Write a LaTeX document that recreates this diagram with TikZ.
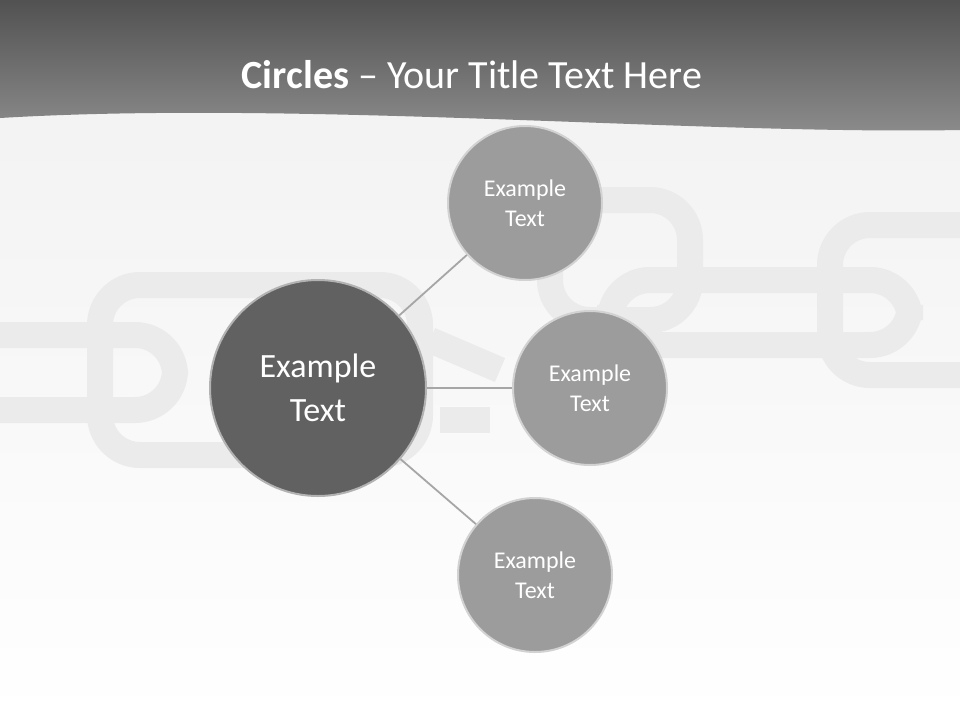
\documentclass[tikz,border=0pt]{standalone}
\usepackage{fontspec}
\setmainfont{Carlito}
\begin{document}
\begin{tikzpicture}[x=1pt,y=-1pt,
  small/.style={circle,minimum size=154pt,inner sep=0pt,fill=gray!78,draw=gray!35,line width=2pt,text=white,font=\fontsize{24}{30}\selectfont,align=center},
  big/.style={circle,minimum size=216pt,inner sep=0pt,fill=black!62,draw=gray!60,line width=2pt,text=white,font=\fontsize{34}{44}\selectfont,align=center},
  link/.style={line width=26pt,draw=gray!16,rounded corners=40pt},
  conn/.style={draw=gray!70,line width=1.8pt}]
\useasboundingbox (0,0) rectangle (960,720);
\shade[top color=white!95!black,bottom color=white] (0,100) rectangle (960,720);
% chain
\draw[link] (-40,335) rectangle (175,410);
\draw[link] (100,285) rectangle (420,455);
\draw[link] (550,200) rectangle (690,320);
\draw[link] (610,280) rectangle (910,345);
\draw[link] (830,225) rectangle (1000,375);
\draw[link,rounded corners=4pt] (430,340) -- (500,370);
\draw[link,rounded corners=4pt] (440,420) -- (490,420);
% header
\shade[top color=black!68,bottom color=black!45] (0,0) -- (960,0) -- (960,130) .. controls (700,135) and (300,100) .. (0,118) -- cycle;
\node (title) at (472,75) {\fontsize{40}{48}\selectfont\color{white}\textbf{Circles} -- Your Title Text Here};
% circles
\node[big] (c) at (318,388) {Example\\Text};
\node[small] (a) at (525,203) {Example\\Text};
\node[small] (b) at (590,388) {Example\\Text};
\node[small] (d) at (535,575) {Example\\Text};
\draw[conn] (c) -- (a);
\draw[conn] (c) -- (b);
\draw[conn] (c) -- (d);
\end{tikzpicture}
\end{document}
